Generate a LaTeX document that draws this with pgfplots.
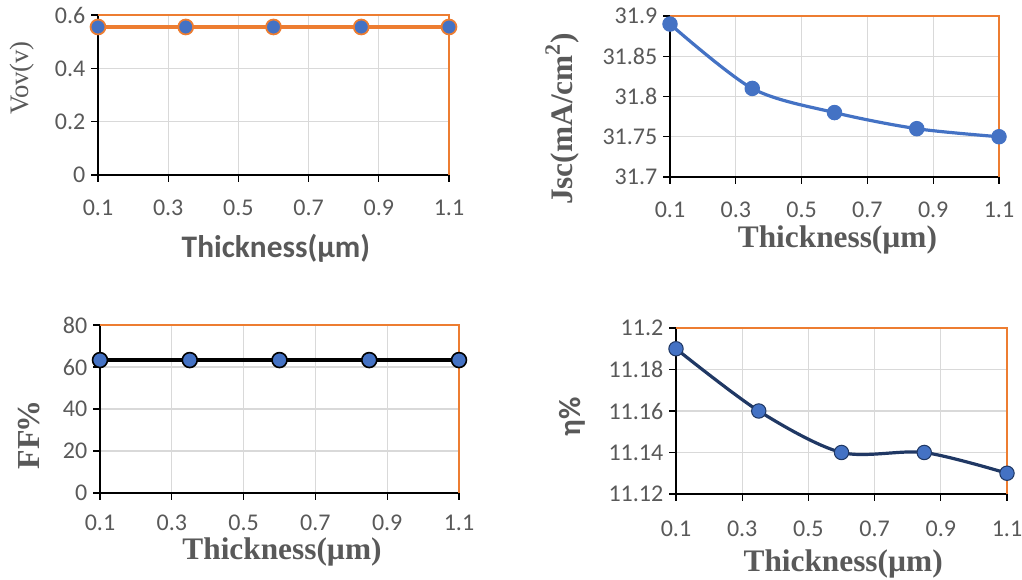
\documentclass[border=0pt]{standalone}
\usepackage{pgfplots}
\pgfplotsset{compat=1.18}
\usepackage{fontspec}
\setmainfont{Carlito}
\newfontfamily\tnr{Liberation Serif}
\definecolor{xlorange}{HTML}{ED7D31}
\definecolor{xlblue}{HTML}{4472C4}
\definecolor{xlnavy}{HTML}{203864}
\definecolor{xlgray}{HTML}{595959}
\definecolor{xlgrid}{HTML}{D9D9D9}
\pgfplotsset{
  panel/.style={
    scale only axis, anchor=south west, clip=false,
    xmin=0.1, xmax=1.1,
    xtick={0.1,0.3,0.5,0.7,0.9,1.1},
    xticklabels={0.1,0.3,0.5,0.7,0.9,1.1},
    grid=major, grid style={draw=xlgrid, line width=1pt},
    axis line style={draw=none},
    tick pos=left, tick align=outside, major tick length=5pt,
    tick style={black, line width=0.9pt},
    ticklabel style={font=\fontsize{18}{20}\selectfont, text=xlgray},
    xticklabel style={yshift=-10pt},
    yticklabel style={xshift=-1pt},
    /pgf/number format/assume math mode=true,
    xlabel style={anchor=center, text=xlgray},
    ylabel style={anchor=center, text=xlgray},
  },
}
\newcommand{\excelframe}{%
  \draw[black, line width=1.3pt] (rel axis cs:0,1) -- (rel axis cs:0,0) -- (rel axis cs:1,0);
  \draw[xlorange, line width=1.3pt] (rel axis cs:0,1) -- (rel axis cs:1,1) -- (rel axis cs:1,0);
}
\begin{document}
\begin{tikzpicture}
\useasboundingbox (0,0) rectangle (766.5pt,435pt);
% Panel 1: Voc
\begin{axis}[panel, at={(73.5pt,303.75pt)}, width=263.25pt, height=120pt,
  ymin=0, ymax=0.6, ytick={0,0.2,0.4,0.6}, yticklabels={0,0.2,0.4,0.6},
  xlabel={\fontsize{23.5}{26}\selectfont\bfseries Thickness(µm)},
  xlabel style={at={(axis description cs:0.507,-0.456)}},
  ylabel={\fontsize{20}{22}\selectfont\tnr Vov(v)},
  ylabel style={at={(axis description cs:-0.2165,0.606)}},
]
\excelframe
\addplot[xlorange, line width=2.6pt, mark=*, mark size=5.6pt,
  mark options={fill=xlblue, draw=xlorange, line width=1.3pt}]
  coordinates {(0.1,0.555) (0.35,0.555) (0.6,0.555) (0.85,0.555) (1.1,0.555)};
\end{axis}
% Panel 2: Jsc
\begin{axis}[panel, at={(502.5pt,302.25pt)}, width=246.75pt, height=120.75pt,
  ymin=31.7, ymax=31.9, ytick={31.7,31.75,31.8,31.85,31.9},
  yticklabels={31.7,31.75,31.8,31.85,31.9},
  xlabel={\fontsize{23.5}{26}\selectfont\tnr\bfseries Thickness(µm)},
  xlabel style={at={(axis description cs:0.509,-0.391)}},
  ylabel={\fontsize{23.5}{26}\selectfont\tnr\bfseries Jsc(mA/cm\textsuperscript{2})},
  ylabel style={at={(axis description cs:-0.328,0.36)}},
]
\excelframe
\addplot[xlblue, line width=2.4pt, smooth, mark=*, mark size=5.4pt,
  mark options={fill=xlblue, draw=xlblue, line width=0.8pt}]
  coordinates {(0.1,31.89) (0.35,31.81) (0.6,31.78) (0.85,31.76) (1.1,31.75)};
\end{axis}
% Panel 3: FF
\begin{axis}[panel, at={(75pt,65.25pt)}, width=269.25pt, height=126pt,
  ymin=0, ymax=80, ytick={0,20,40,60,80}, yticklabels={0,20,40,60,80},
  xticklabel style={yshift=2pt},
  xlabel={\fontsize{23.5}{26}\selectfont\tnr\bfseries Thickness(µm)},
  xlabel style={at={(axis description cs:0.507,-0.35)}},
  ylabel={\fontsize{24}{26}\selectfont\tnr\bfseries FF\kern-2pt\%},
  ylabel style={at={(axis description cs:-0.198,0.345)}},
]
\excelframe
\addplot[black, line width=2.4pt, mark=*, mark size=5.6pt,
  mark options={fill=xlblue, draw=black, line width=1.2pt}]
  coordinates {(0.1,63.3) (0.35,63.3) (0.6,63.3) (0.85,63.3) (1.1,63.3)};
\end{axis}
% Panel 4: efficiency
\begin{axis}[panel, at={(507pt,64.5pt)}, width=248.25pt, height=124.5pt,
  ymin=11.12, ymax=11.2, ytick={11.12,11.14,11.16,11.18,11.2},
  yticklabels={11.12,11.14,11.16,11.18,11.2},
  xticklabel style={yshift=-2pt},
  xlabel={\fontsize{23.5}{26}\selectfont\tnr\bfseries Thickness(µm)},
  xlabel style={at={(axis description cs:0.505,-0.42)}},
  ylabel={\fontsize{23}{25}\selectfont\bfseries η\%},
  ylabel style={at={(axis description cs:-0.314,0.464)}},
]
\excelframe
\addplot[xlnavy, line width=2.4pt, smooth, mark=*, mark size=5.4pt,
  mark options={fill=xlblue, draw=xlnavy, line width=0.8pt}]
  coordinates {(0.1,11.19) (0.35,11.16) (0.6,11.14) (0.85,11.14) (1.1,11.13)};
\end{axis}
\end{tikzpicture}
\end{document}
